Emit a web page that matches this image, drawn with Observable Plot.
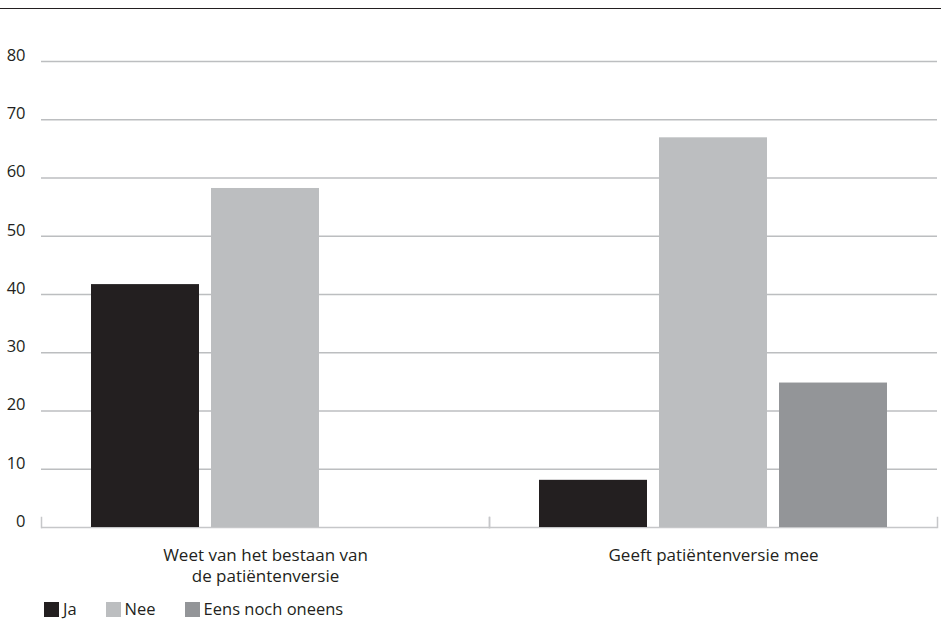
<!DOCTYPE html>
<html>
<head>
<meta charset="utf-8">
<script src="https://cdn.jsdelivr.net/npm/d3@7"></script>
<script src="https://cdn.jsdelivr.net/npm/@observablehq/plot@0.6"></script>
<style>
  html, body { margin: 0; padding: 0; background: #fff; }
  #wrap { position: relative; width: 941px; height: 622px; font-family: 'Open Sans', sans-serif; color: #231f20; overflow: hidden; }
  #topline { position: absolute; left: 0; top: 8px; width: 941px; border-top: 1.5px solid #231f20; }
  #chart { position: absolute; left: 0; top: 0; }
  #legend { position: absolute; left: 44px; top: 600px; display: flex; align-items: center; font-size: 16.5px; line-height: 18px; }
  .item { display: flex; align-items: center; margin-right: 29px; }
  .sw { width: 15px; height: 15px; margin-right: 4px; }
</style>
</head>
<body>
<div id="wrap">
  <div id="topline"></div>
  <div id="chart"></div>
  <div id="legend"></div>
</div>
<script>
const groups = ["Weet van het bestaan van de patiëntenversie", "Geeft patiëntenversie mee"];
const groupLabels = ["Weet van het bestaan van\nde patiëntenversie", "Geeft patiëntenversie mee"];
const series = ["Ja", "Nee", "Eens noch oneens"];
const jaValues = [41.7, 8.1];
const neeValues = [58.2, 66.9];
const eensValues = [0, 24.8];
const yTicks = [0, 10, 20, 30, 40, 50, 60, 70, 80];
const colors = ["#231f20", "#bcbec0", "#939598"];

const seriesValues = [jaValues, neeValues, eensValues];
const table = groups.flatMap((g, i) => series.map((s, j) => ({group: g, series: s, value: seriesValues[j][i]})));

const gridColor = "#bcbec0";

const chart = Plot.plot({
  width: 941,
  height: 595,
  marginTop: 61,
  marginBottom: 68,
  marginLeft: 41,
  marginRight: 4,
  style: {fontFamily: "'Open Sans', sans-serif", fontSize: "16px", color: "#231f20", background: "transparent"},
  fx: {domain: groups, padding: 0, axis: null},
  x: {domain: series, paddingInner: 0.1, paddingOuter: 0.41, axis: null},
  y: {domain: [0, 80], axis: null},
  color: {domain: series, range: colors},
  marks: [
    Plot.gridY(yTicks.filter(d => d > 0), {stroke: gridColor, strokeOpacity: 1, strokeWidth: 1.5}),
    Plot.ruleY([0], {stroke: "#c6c7c9", strokeWidth: 1.5}),
    Plot.frame({anchor: "left", stroke: "#c6c7c9", strokeWidth: 1.5, insetTop: 456}),
    Plot.frame({anchor: "right", stroke: "#c6c7c9", strokeWidth: 1.5, insetTop: 456}),
    Plot.barY(table, {fx: "group", x: "series", y: "value", fill: "series"}),
    Plot.axisY(yTicks, {tickSize: 0, tickPadding: 16, dy: -6, fontSize: 16.5, fill: "#231f20", label: null}),
    Plot.text(groups, {fx: d => d, text: (d, i) => groupLabels[i], frameAnchor: "bottom", lineAnchor: "top", dy: 19, lineHeight: 1.22, fontSize: 17, fill: "#231f20"})
  ]
});
document.getElementById("chart").appendChild(chart);

const legend = document.getElementById("legend");
series.forEach((s, i) => {
  const item = document.createElement("div");
  item.className = "item";
  const sw = document.createElement("div");
  sw.className = "sw";
  sw.style.background = colors[i];
  const label = document.createElement("span");
  label.textContent = s;
  item.appendChild(sw);
  item.appendChild(label);
  legend.appendChild(item);
});
</script>
</body>
</html>
